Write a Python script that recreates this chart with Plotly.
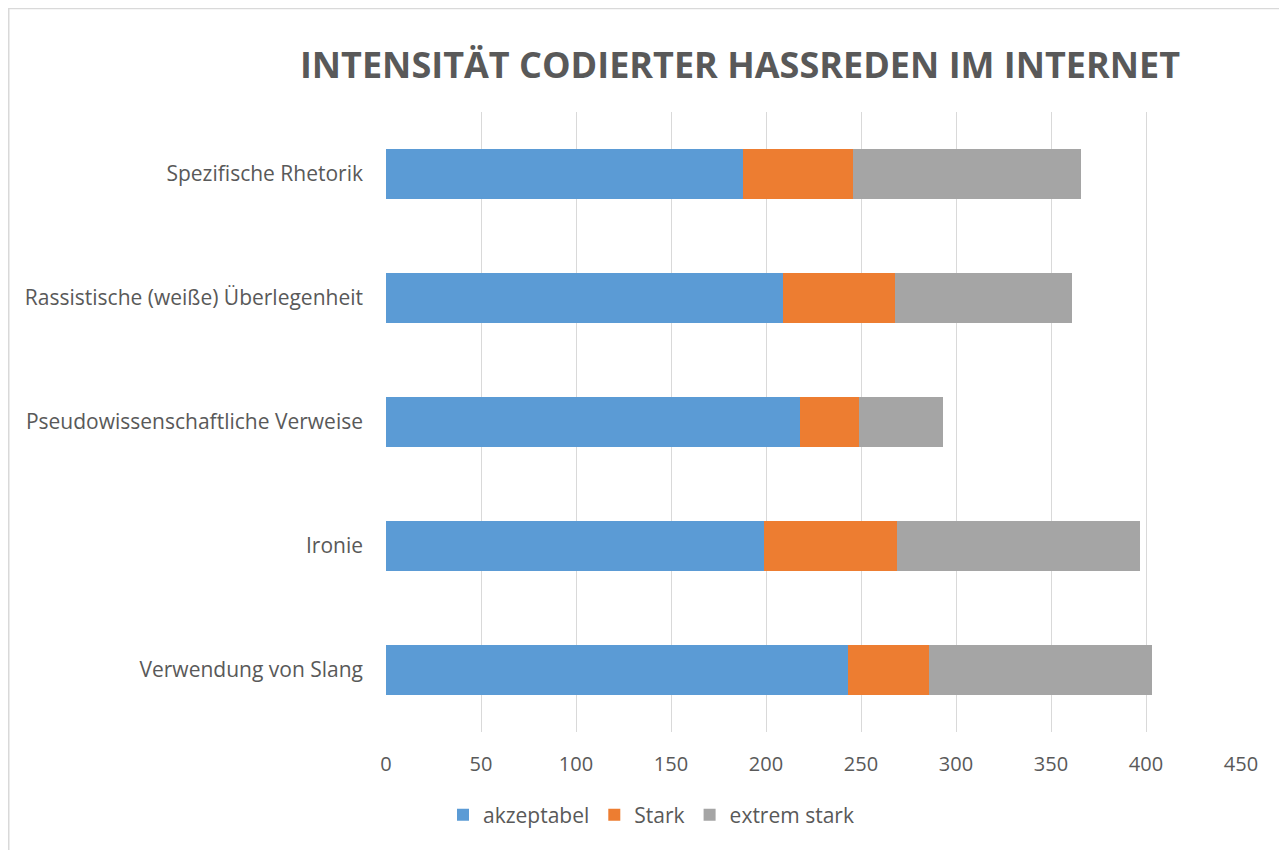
import plotly.graph_objs as go

categories = [
    'Verwendung von Slang',
    'Ironie',
    'Pseudowissenschaftliche Verweise',
    'Rassistische (weiße) Überlegenheit',
    'Spezifische Rhetorik',
]
akzeptabel = [243, 199, 218, 209, 188]
stark = [43, 70, 31, 59, 58]
extrem_stark = [117, 128, 44, 93, 120]

series_names = ['akzeptabel', 'Stark', 'extrem stark']
COLORS = ['#5B9BD5', '#ED7D31', '#A5A5A5']

# page has an 8px body margin, so the figure is a bit smaller than the window
W, H = 1279, 842
L, R, T, B = 378, 46, 104, 118
pw, ph = W - L - R, H - T - B

fig = go.Figure()
for name, vals, color in zip(series_names, [akzeptabel, stark, extrem_stark], COLORS):
    fig.add_trace(go.Bar(y=categories, x=vals, name=name, orientation='h',
                         marker=dict(color=color, line=dict(width=0))))

# chart frame (top and left edges visible)
fig.add_shape(type='line', xref='paper', yref='paper',
              x0=-L / pw, x1=1.2, y0=(H - B - 0.5) / ph, y1=(H - B - 0.5) / ph,
              line=dict(color='#D9D9D9', width=1.5))
fig.add_shape(type='line', xref='paper', yref='paper',
              x0=(0.75 - L) / pw, x1=(0.75 - L) / pw, y0=-B / ph, y1=(H - B) / ph,
              line=dict(color='#D9D9D9', width=1.5))

fig.update_layout(
    width=W, height=H,
    barmode='stack', bargap=0.59,
    paper_bgcolor='white', plot_bgcolor='white',
    margin=dict(l=L, r=R, t=T, b=B),
    font=dict(family='Open Sans', color='#595959', size=20),
    title=dict(text='<b>INTENSITÄT CODIERTER HASSREDEN IM INTERNET</b>',
               x=732 / W, xanchor='center', y=1 - 57 / H, yanchor='middle',
               font=dict(size=36, color='#595959', family='Open Sans')),
    legend=dict(orientation='h', x=(643 - L) / pw, xanchor='center',
                y=(H - B - 807) / ph, yanchor='middle',
                traceorder='normal', font=dict(size=21, color='#595959'),
                itemwidth=30),
    xaxis=dict(range=[0, 450], dtick=50, showgrid=True, gridcolor='#D9D9D9',
               zeroline=False, showline=False, ticks='', ticklabelstandoff=18,
               tickfont=dict(size=20, color='#595959')),
    yaxis=dict(showgrid=False, showline=False, ticks='', ticklabelstandoff=22,
               tickfont=dict(size=21, color='#595959')),
)

fig.write_html('out.html')
